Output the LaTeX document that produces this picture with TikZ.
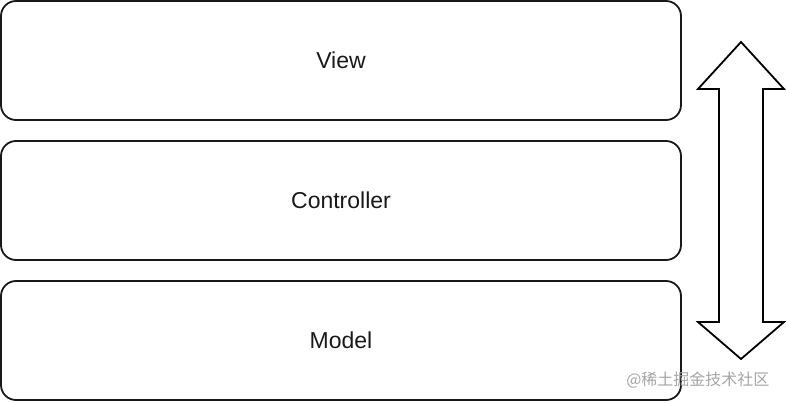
\documentclass[tikz,border=0pt]{standalone}
\usepackage{fontspec}
\setmainfont{Liberation Sans}
\newfontfamily\cjk{Noto Sans CJK SC}
\begin{document}
\begin{tikzpicture}[x=1pt,y=1pt,
  layer/.style={draw=black!90, line width=1.8pt, rounded corners=15pt, fill=white},
  lbl/.style={font=\fontsize{23}{27}\selectfont, text=black!90},
  wm/.style={font=\cjk\fontsize{16}{18}\selectfont, text=black!35}]
\useasboundingbox[fill=white] (0,0) rectangle (786,402);
% layers
\draw[layer] (1,282) rectangle (681,401);
\draw[layer] (1,142) rectangle (681,261);
\draw[layer] (1,2) rectangle (681,121);
\node[lbl] (view) at (341,342) {View};
\node[lbl] (ctrl) at (341,202) {Controller};
\node[lbl] (model) at (341,62) {Model};
% double arrow
\draw[line width=1.8pt, line join=miter, fill=white]
  (741,360) -- (784,313) -- (763,313) -- (763,80) -- (784,80) -- (741,43)
  -- (698,80) -- (719,80) -- (719,313) -- (698,313) -- cycle;
% watermark
\node[wm, anchor=east] (mark) at (773,22) {@稀土掘金技术社区};
\end{tikzpicture}
\end{document}
